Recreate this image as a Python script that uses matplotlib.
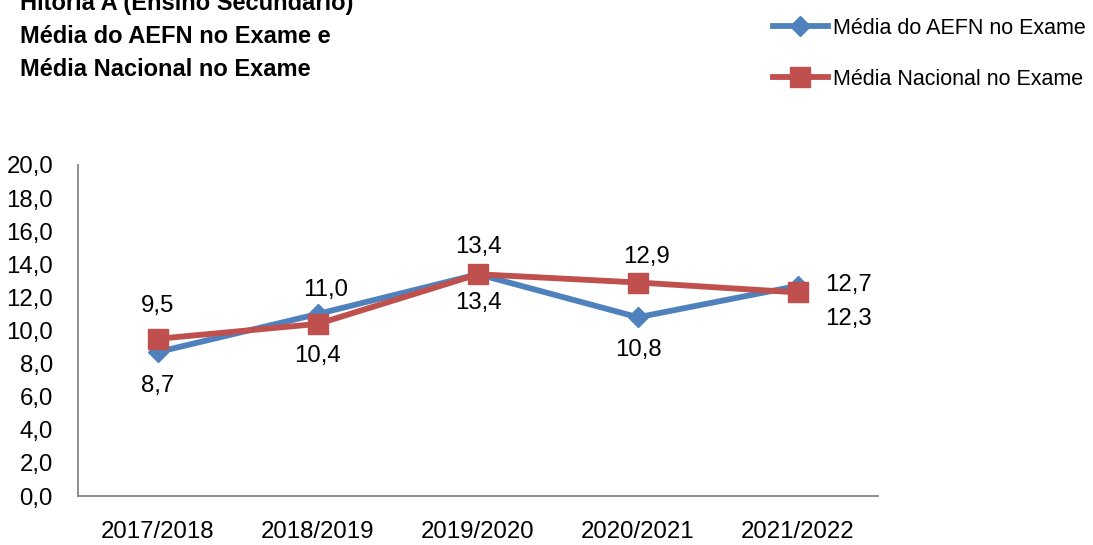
import matplotlib
matplotlib.use("Agg")
import matplotlib.pyplot as plt
from matplotlib.lines import Line2D

plt.rcParams['font.family'] = ['Liberation Sans', 'DejaVu Sans']

years = ["2017/2018", "2018/2019", "2019/2020", "2020/2021", "2021/2022"]
aefn = [8.7, 11.0, 13.4, 10.8, 12.7]
nacional = [9.5, 10.4, 13.4, 12.9, 12.3]
yticks = [0, 2, 4, 6, 8, 10, 12, 14, 16, 18, 20]

title_lines = ["Hitória A (Ensino Secundário)",
               "Média do AEFN no Exame e",
               "Média Nacional no Exame"]
label_aefn = "Média do AEFN no Exame"
label_nac = "Média Nacional no Exame"

BLUE = "#4F81BD"
RED = "#C0504D"
W, H = 1093, 545
DPI = 100
FS = 17.3
LW = 4.2
MS_SQ = 14
MS_D = 10

fig = plt.figure(figsize=(W / DPI, H / DPI), dpi=DPI)
# axes box in pixels: left 78, right 878, bottom 496, top 165
ax = fig.add_axes([78 / W, (H - 496) / H, 800 / W, (496 - 165) / H])

x = list(range(len(years)))
ax.plot(x, aefn, color=BLUE, lw=LW, marker="D", ms=MS_D, mec=BLUE, mfc=BLUE,
        zorder=3)
ax.plot(x, nacional, color=RED, lw=LW, marker="s", ms=MS_SQ, mec=RED, mfc=RED,
        zorder=4)

ax.set_xlim(-0.5, len(years) - 0.5)
ax.set_ylim(0, 20)
ax.set_yticks(yticks)
ax.set_yticklabels([f"{v:.1f}".replace(".", ",") for v in yticks])
ax.set_xticks(x)
ax.set_xticklabels(years)
ax.tick_params(axis="both", length=0, labelsize=FS, colors="black")
ax.tick_params(axis="y", pad=18)
ax.tick_params(axis="x", pad=18)
for s in ("top", "right"):
    ax.spines[s].set_visible(False)
for s in ("left", "bottom"):
    ax.spines[s].set_color("#868686")
    ax.spines[s].set_linewidth(1.3)

def fmt(v):
    return f"{v:.1f}".replace(".", ",")

px = 72 / DPI  # pixel -> point
aefn_off = [(0, -34), (8, 24), (0, -29), (0, -33), (50, 1)]
nac_off = [(0, 33), (0, -32), (0, 27), (8, 26), (50, -27)]
for i, v in enumerate(aefn):
    dx, dy = aefn_off[i]
    ax.annotate(fmt(v), (i, v), xytext=(dx * px, dy * px), textcoords="offset points",
                ha="center", va="center", fontsize=FS)
for i, v in enumerate(nacional):
    dx, dy = nac_off[i]
    ax.annotate(fmt(v), (i, v), xytext=(dx * px, dy * px), textcoords="offset points",
                ha="center", va="center", fontsize=FS)

# title, first line partly above the figure edge
for line, base in zip(title_lines, [10, 43, 76]):
    fig.text(20 / W, 1 - base / H, line, ha="left", va="baseline", fontsize=17,
             fontweight="bold")

# legend
for ybase, yline, col, mk, ms, lab in [(34, 26, BLUE, "D", MS_D, label_aefn),
                                       (85, 77, RED, "s", MS_SQ, label_nac)]:
    yf = 1 - yline / H
    fig.add_artist(Line2D([773 / W, 828 / W], [yf, yf], color=col, lw=LW,
                          transform=fig.transFigure))
    fig.add_artist(Line2D([800 / W], [yf], color=col, marker=mk, ms=ms,
                          mec=col, mfc=col, transform=fig.transFigure))
    fig.text(833 / W, 1 - ybase / H, lab, ha="left", va="baseline", fontsize=15.5)

fig.savefig("out.png", dpi=DPI)
